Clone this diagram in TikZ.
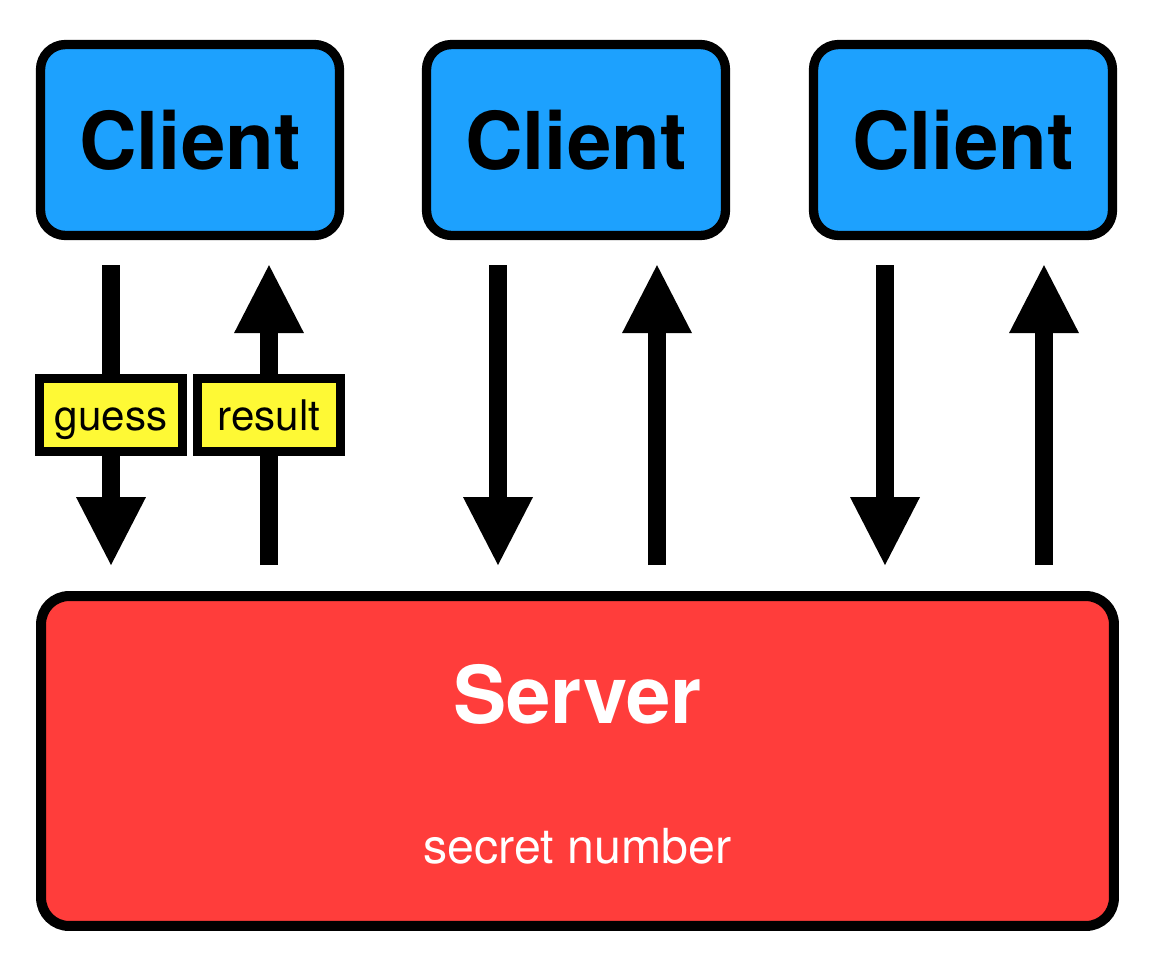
\documentclass[tikz,border=0pt]{standalone}
\usepackage{fontspec}
\setmainfont{TeX Gyre Heros}
\usetikzlibrary{arrows.meta, calc, positioning}
\definecolor{cblue}{HTML}{1DA1FE}
\definecolor{sred}{HTML}{FF3D3B}
\definecolor{tagyel}{HTML}{FEF935}
\tikzset{
  client/.style={draw=black, fill=cblue, line width=5.3pt, rounded corners=0.5cm,
    minimum width=5.98cm, minimum height=3.82cm, inner sep=0pt,
    font=\bfseries\fontsize{45.4}{50}\selectfont},
  server/.style={draw=black, fill=sred, line width=5.7pt, rounded corners=0.56cm,
    minimum width=21.46cm, minimum height=6.6cm},
  flow/.style={line width=0.36cm, -{Triangle[length=1.36cm, width=1.4cm, line width=0pt]}},
  tag/.style={draw=black, fill=tagyel, line width=4.8pt, minimum width=2.86cm,
    minimum height=1.46cm, inner sep=0pt, text height=17.6pt, text depth=0pt,
    font=\fontsize{24}{28}\selectfont},
  wtext/.style={text=white, anchor=base, inner sep=0pt}
}

\begin{document}
\begin{tikzpicture}[x=0.02cm, y=-0.02cm]
  \useasboundingbox (0,0) rectangle (1158,964);
  \foreach \n/\x in {1/190, 2/576, 3/963}
     \node[client] (c\n) at (\x,140) {Client};
  \node[server] (sv) at (577.5,761) {};
  \node[wtext, font=\bfseries\fontsize{45.4}{50}\selectfont] (svname) at ($(sv.north)+(0,132)$) {Server};
  \node[wtext, font=\fontsize{27.5}{32}\selectfont] (secret) at ($(sv.north)+(0,272)$) {secret number};
  % guess / result
  \draw[flow] ($(c1.south)+(-79,25)$) -- node[tag] (guess) {guess} ($(c1.south |- sv.north)+(-79,-26)$);
  \draw[flow] ($(c1.south |- sv.north)+(79,-26)$) -- node[tag] (result) {result} ($(c1.south)+(79,25)$);
  \foreach \n in {2,3}{
     \draw[flow] ($(c\n.south)+(-78,25)$) -- ($(c\n.south |- sv.north)+(-78,-26)$);
     \draw[flow] ($(c\n.south |- sv.north)+(81,-26)$) -- ($(c\n.south)+(81,25)$);}
\end{tikzpicture}
\end{document}
